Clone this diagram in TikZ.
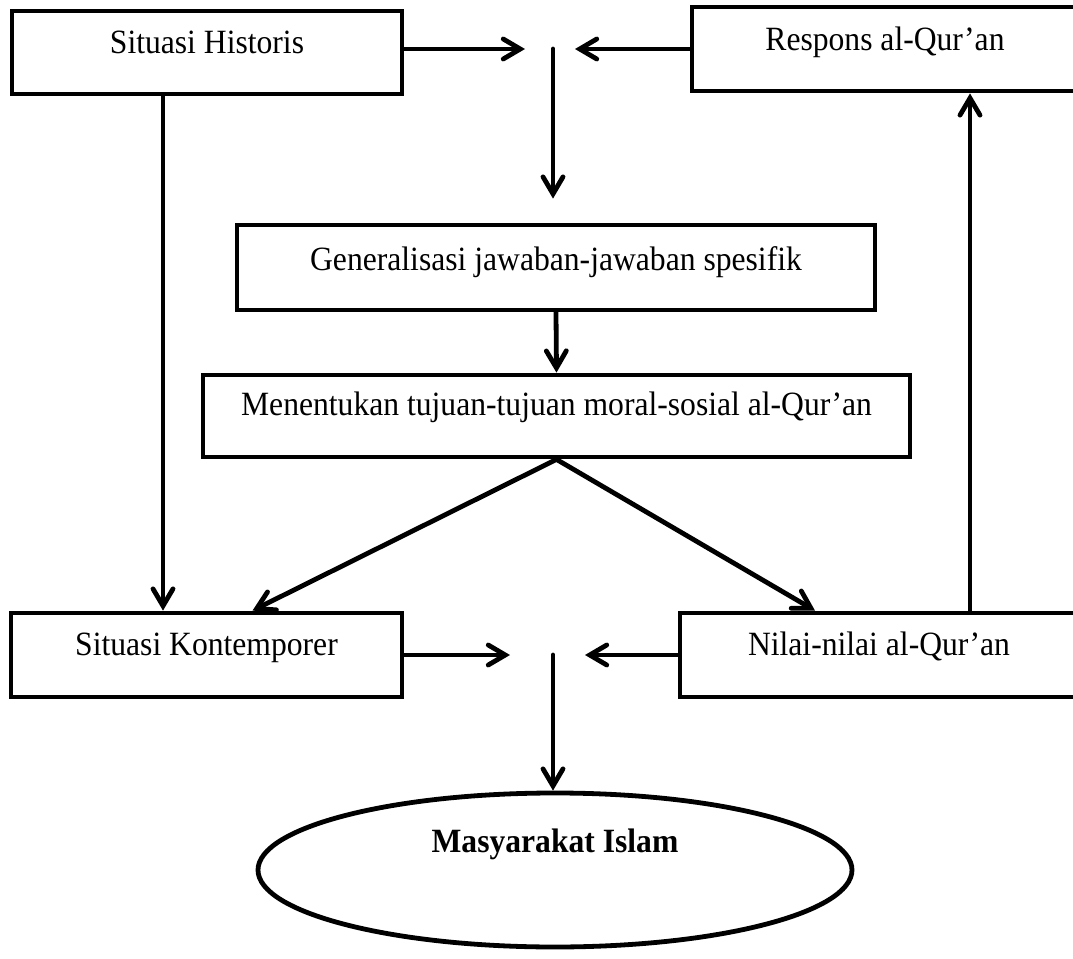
\documentclass[tikz,border=0pt]{standalone}
\usepackage{fontspec}
\setmainfont[FakeStretch=0.93]{Liberation Serif}
\usetikzlibrary{arrows.meta,shapes.geometric}

\begin{document}
\begin{tikzpicture}[x=0.5pt,y=-0.5pt,
  font=\fontsize{17}{20}\selectfont,
  box/.style={draw,rectangle,line width=2.4pt,inner xsep=0pt,inner ysep=0pt},
  arr/.style={-{Straight Barb[length=8.5pt,width=10pt,line cap=round]},line width=2.4pt,line cap=round}]
\useasboundingbox (0,0) rectangle (1073,959);
 % nodi
  \node (sh) at (207,52.5) [box,minimum width=195pt,text height=21pt,text depth=20.5pt] {Situasi Historis};
  \node (resp) at (885,49) [box,minimum width=193pt,text height=21.5pt,text depth=20.5pt] {Respons al-Qur'an};
  \node (gen) at (556,267.5) [box,minimum width=319pt,text height=22.5pt,text depth=20pt] {Generalisasi jawaban-jawaban spesifik};
  \node (men) at (556.5,416) [box,minimum width=353.5pt,text height=20pt,text depth=21pt] {Menentukan tujuan-tujuan moral-sosial al-Qur'an};
  \node (sk) at (206.5,655) [box,minimum width=195.5pt,text height=21pt,text depth=21pt] {Situasi Kontemporer};
  \node (nilai) at (879,655) [box,minimum width=199pt,text height=21pt,text depth=21pt] {Nilai-nilai al-Qur'an};
  \node (ell) at (555,870) [draw,ellipse,line width=2.4pt,minimum width=297pt,minimum height=77pt,inner sep=0pt,text height=10pt,text depth=28pt,font=\fontsize{17}{20}\selectfont\bfseries] {Masyarakat Islam};
  \coordinate (tl) at (525,49);
  \coordinate (tr) at (575,49);
  \coordinate (tb) at (553,49);
  \coordinate (bl) at (510,655);
  \coordinate (br) at (585,655);
  \coordinate (bb) at (553,655);
 % archi
  \draw[arr] (sh.east |- tl) -- (tl);
  \draw[arr] (resp.west |- tr) -- (tr);
  \draw[arr,shorten >=12pt] (tb) -- (tb |- gen.north);
  \draw[arr] (gen.south) -- (men.north);
  \draw[arr] (men.south) -- ([xshift=23pt]sk.north);
  \draw[arr] (men.south) -- ([xshift=-32pt]nilai.north);
  \draw[arr] ([xshift=-22pt]sh.south) -- ([xshift=-22pt]sh.south |- sk.north);
  \draw[arr] ([xshift=45.5pt]nilai.north) -- ([xshift=45.5pt]nilai.north |- resp.south);
  \draw[arr] (sk.east |- bl) -- (bl);
  \draw[arr] (nilai.west |- br) -- (br);
  \draw[arr] (bb) -- (bb |- ell.north);
\end{tikzpicture}
\end{document}
